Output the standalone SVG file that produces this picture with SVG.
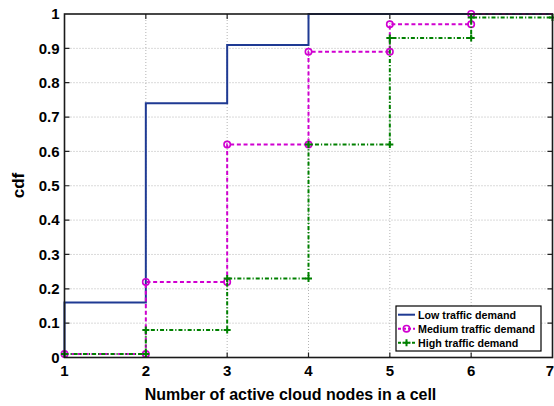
<svg xmlns="http://www.w3.org/2000/svg" width="554" height="406" viewBox="0 0 554 406">
<style>
.grid{stroke:#b4b4b4;stroke-width:1;stroke-dasharray:1 2;fill:none}
.tick{stroke:#222;stroke-width:1.2}
.tl{font-family:"Liberation Sans",Arial,sans-serif;font-weight:bold;font-size:15px;fill:#000}
.lab{font-family:"Liberation Sans",Arial,sans-serif;font-weight:bold;font-size:16px;fill:#000}
.leg{font-family:"Liberation Sans",Arial,sans-serif;font-weight:bold;font-size:10.7px;fill:#000}
.low{stroke:#1f3a93;stroke-width:2;fill:none}
.med{stroke:#d000d0;stroke-width:2;fill:none;stroke-dasharray:4 2.7}
.high{stroke:#008000;stroke-width:2;fill:none;stroke-dasharray:4 2 1.2 2}
</style>
<defs>
<circle id="mo" r="3.2" fill="none" stroke="#d000d0" stroke-width="1.6"/>
<path id="mp" d="M-3.5,0H3.5M0,-3.5V3.5" stroke="#008000" stroke-width="2"/>
</defs>
<rect width="554" height="406" fill="#fff"/>
<g id="grid">
<path class="grid" d="M145.83,14V357.5M227.17,14V357.5M308.5,14V357.5M389.83,14V357.5M471.17,14V357.5"/>
<path class="grid" d="M64.5,323.15H552.5M64.5,288.8H552.5M64.5,254.45H552.5M64.5,220.1H552.5M64.5,185.75H552.5M64.5,151.4H552.5M64.5,117.05H552.5M64.5,82.7H552.5M64.5,48.35H552.5"/>
</g>
<g id="ticks">
<path class="tick" d="M145.83,357.5v-5M227.17,357.5v-5M308.5,357.5v-5M389.83,357.5v-5M471.17,357.5v-5M145.83,14v5M227.17,14v5M308.5,14v5M389.83,14v5M471.17,14v5"/>
<path class="tick" d="M64.5,323.15h5M64.5,288.8h5M64.5,254.45h5M64.5,220.1h5M64.5,185.75h5M64.5,151.4h5M64.5,117.05h5M64.5,82.7h5M64.5,48.35h5M552.5,323.15h-5M552.5,288.8h-5M552.5,254.45h-5M552.5,220.1h-5M552.5,185.75h-5M552.5,151.4h-5M552.5,117.05h-5M552.5,82.7h-5M552.5,48.35h-5"/>
</g>
<g id="connectors">
<path id="low" class="low" d="M64.5,357.5V302.54H145.83V103.31H227.17V44.92H308.5V14H552.5"/>
<path id="medium" class="med" d="M64.5,354.07H145.83V281.93H227.17V144.53H308.5V51.79H389.83V24.3H471.17V14H552.5"/>
<g id="medium-markers">
<use href="#mo" x="64.5" y="354.07"/><use href="#mo" x="145.83" y="354.07"/><use href="#mo" x="145.83" y="281.93"/><use href="#mo" x="227.17" y="281.93"/><use href="#mo" x="227.17" y="144.53"/><use href="#mo" x="308.5" y="144.53"/><use href="#mo" x="308.5" y="51.79"/><use href="#mo" x="389.83" y="51.79"/><use href="#mo" x="389.83" y="24.3"/><use href="#mo" x="471.17" y="24.3"/><use href="#mo" x="471.17" y="14"/>
</g>
<path id="high" class="high" d="M64.5,354.07H145.83V330.02H227.17V278.5H308.5V144.53H389.83V38.05H471.17V17.44H552.5"/>
<g id="high-markers">
<use href="#mp" x="64.5" y="354.07"/><use href="#mp" x="145.83" y="354.07"/><use href="#mp" x="145.83" y="330.02"/><use href="#mp" x="227.17" y="330.02"/><use href="#mp" x="227.17" y="278.5"/><use href="#mp" x="308.5" y="278.5"/><use href="#mp" x="308.5" y="144.53"/><use href="#mp" x="389.83" y="144.53"/><use href="#mp" x="389.83" y="38.05"/><use href="#mp" x="471.17" y="38.05"/><use href="#mp" x="471.17" y="17.44"/><use href="#mp" x="552.5" y="17.44"/>
</g>
</g>
<rect id="axes" x="64.5" y="14" width="488" height="343.5" fill="none" stroke="#1a1a1a" stroke-width="1.6"/>
<g id="yticklabels" class="tl" text-anchor="end">
<text x="59.5" y="362.8">0</text>
<text x="59.5" y="328.4">0.1</text>
<text x="59.5" y="294.1">0.2</text>
<text x="59.5" y="259.8">0.3</text>
<text x="59.5" y="225.4">0.4</text>
<text x="59.5" y="191.1">0.5</text>
<text x="59.5" y="156.7">0.6</text>
<text x="59.5" y="122.4">0.7</text>
<text x="59.5" y="88">0.8</text>
<text x="59.5" y="53.7">0.9</text>
<text x="59.5" y="19.3">1</text>
</g>
<g id="xticklabels" class="tl" text-anchor="middle">
<text x="64.5" y="375.5">1</text>
<text x="145.83" y="375.5">2</text>
<text x="227.17" y="375.5">3</text>
<text x="308.5" y="375.5">4</text>
<text x="389.83" y="375.5">5</text>
<text x="471.17" y="375.5">6</text>
<text x="554" y="375.5" text-anchor="end">7</text>
</g>
<text id="xlabel" class="lab" x="290.5" y="400" text-anchor="middle">Number of active cloud nodes in a cell</text>
<text id="ylabel" class="lab" x="0" y="0" text-anchor="middle" transform="translate(23.5,185.5) rotate(-90)" style="font-size:17px">cdf</text>
<g id="legend">
<rect x="396" y="306" width="145" height="45" fill="#fff" stroke="#000" stroke-width="1.2"/>
<path class="low" d="M398,314.7H415"/>
<path d="M398,328.7H415" stroke="#d000d0" stroke-width="2" stroke-dasharray="3 2"/>
<use href="#mo" x="406.5" y="328.7"/>
<path d="M398,342.7H415" stroke="#008000" stroke-width="2" stroke-dasharray="3 1.5 1 1.5"/>
<use href="#mp" x="406.5" y="342.7"/>
<text class="leg" x="418" y="318.5">Low traffic demand</text>
<text class="leg" x="418" y="332.5">Medium traffic demand</text>
<text class="leg" x="418" y="346.5">High traffic demand</text>
</g>
</svg>
